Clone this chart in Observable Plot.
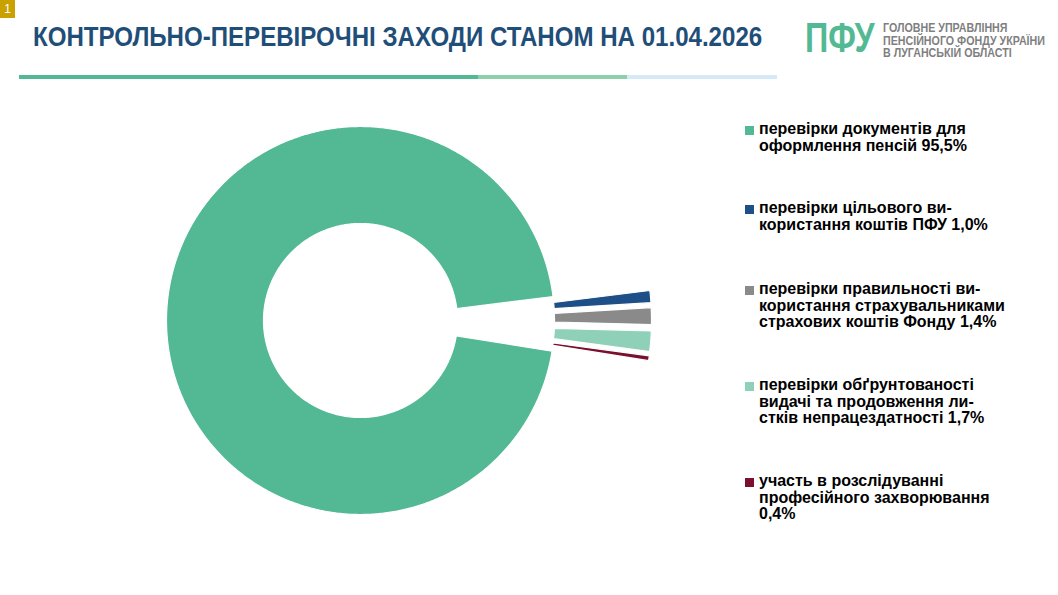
<!DOCTYPE html>
<html>
<head>
<meta charset="utf-8">
<script src="https://cdn.jsdelivr.net/npm/d3@7"></script>
<script src="https://cdn.jsdelivr.net/npm/@observablehq/plot@0.6"></script>
<style>
  html, body { margin: 0; padding: 0; background: #fff; }
  #page { position: relative; width: 1058px; height: 595px; overflow: hidden; font-family: "Liberation Sans", Arial, sans-serif; }
  #badge { position: absolute; left: 0; top: 0; width: 15px; height: 18px; background: #c9a100; color: #fff; font-size: 12px; line-height: 18px; text-align: center; }
  #title { position: absolute; left: 33px; top: 23px; font-weight: bold; font-size: 28px; line-height: 1; color: #1f4e79; white-space: nowrap; transform: scaleX(0.86); transform-origin: 0 0; }
  .bar { position: absolute; top: 75px; height: 4px; }
  #logo { position: absolute; left: 805px; top: 17px; font-weight: bold; font-size: 42px; line-height: 1; color: #52b994; transform: scaleX(0.77); transform-origin: 0 0; white-space: nowrap; }
  #org { position: absolute; left: 883px; top: 22px; font-weight: bold; font-size: 12px; line-height: 12.6px; color: #7f7f7f; white-space: nowrap; transform: scaleX(0.89); transform-origin: 0 0; }
  #chart { position: absolute; left: 0; top: 85px; }
  .item { position: absolute; left: 759px; font-weight: bold; font-size: 16px; line-height: 16.6px; color: #000; white-space: nowrap; }
  .sw { position: absolute; left: -14px; top: 5px; width: 9px; height: 9px; }
</style>
</head>
<body>
<div id="page">
  <div id="badge">1</div>
  <div id="title"></div>
  <div class="bar" style="left:19px;width:459px;background:#52b994"></div>
  <div class="bar" style="left:478px;width:149px;background:#8ecfab"></div>
  <div class="bar" style="left:627px;width:150px;background:#d5eaf6"></div>
  <div id="logo">ПФУ</div>
  <div id="org"></div>
  <div id="chart"></div>
  <div id="legend"></div>
</div>
<script>
const titleText = "КОНТРОЛЬНО-ПЕРЕВІРОЧНІ ЗАХОДИ СТАНОМ НА 01.04.2026";
const orgLines = ["ГОЛОВНЕ УПРАВЛІННЯ", "ПЕНСІЙНОГО ФОНДУ УКРАЇНИ", "В ЛУГАНСЬКІЙ ОБЛАСТІ"];
const categories = [
  "перевірки документів для оформлення пенсій",
  "перевірки цільового використання коштів ПФУ",
  "перевірки правильності використання страхувальниками страхових коштів Фонду",
  "перевірки обґрунтованості видачі та продовження листків непрацездатності",
  "участь в розслідуванні професійного захворювання"
];
const shares = [95.5, 1.0, 1.4, 1.7, 0.4];
const shareLabels = ["95,5%", "1,0%", "1,4%", "1,7%", "0,4%"];
const legendLines = [
  ["перевірки документів для", "оформлення пенсій 95,5%"],
  ["перевірки цільового ви-", "користання коштів ПФУ 1,0%"],
  ["перевірки правильності ви-", "користання страхувальниками", "страхових коштів Фонду 1,4%"],
  ["перевірки обґрунтованості", "видачі та продовження ли-", "стків непрацездатності 1,7%"],
  ["участь в розслідуванні", "професійного захворювання", "0,4%"]
];
const colors = ["#52b994", "#1e4f86", "#8a8a8a", "#8fd0b8", "#7a0f2e"];

document.getElementById("title").textContent = titleText;
document.getElementById("org").innerHTML = orgLines.join("<br>");

// --- donut geometry (unit radius), angles clockwise from 12 o'clock ---
const startDeg = 99.1;
const innerR = 0.5;
const explode = 0.5;   // offset of the small slices, in outer radii
const fan = 0.67;      // how much the explosion direction follows the slice bisector
const total = d3.sum(shares);
const points = [];
let acc = startDeg;
shares.forEach((v, i) => {
  const a0 = acc, a1 = acc + v / total * 360;
  acc = a1;
  const midDeg = (((a0 + a1) / 2) % 360 + 360) % 360;
  const dir = (90 + (midDeg - 90) * fan) * Math.PI / 180;
  const off = i === 0 ? 0 : explode;
  const ox = off * Math.sin(dir), oy = off * Math.cos(dir);
  const n = Math.max(6, Math.ceil((a1 - a0) / 0.5));
  for (let k = 0; k <= n; k++) {
    const a = (a0 + (a1 - a0) * k / n) * Math.PI / 180;
    points.push({slice: categories[i], x: ox + Math.sin(a), y: oy + Math.cos(a)});
  }
  for (let k = n; k >= 0; k--) {
    const a = (a0 + (a1 - a0) * k / n) * Math.PI / 180;
    points.push({slice: categories[i], x: ox + innerR * Math.sin(a), y: oy + innerR * Math.cos(a)});
  }
});

const W = 720, H = 470, Rpx = 194;
const chart = Plot.plot({
  width: W, height: H,
  margin: 0,
  x: {domain: [-W / 2 / Rpx, W / 2 / Rpx], axis: null},
  y: {domain: [-H / 2 / Rpx, H / 2 / Rpx], axis: null},
  color: {domain: categories, range: colors},
  marks: [
    Plot.line(points, {x: "x", y: "y", z: "slice", fill: "slice", stroke: "white", strokeWidth: 1.2, curve: "linear-closed"})
  ]
});
document.getElementById("chart").appendChild(chart);

// --- legend ---
const tops = [121, 200, 281, 377, 473];
const legend = document.getElementById("legend");
legendLines.forEach((lines, i) => {
  const div = document.createElement("div");
  div.className = "item";
  div.style.top = tops[i] + "px";
  div.innerHTML = `<span class="sw" style="background:${colors[i]}"></span>` + lines.join("<br>");
  legend.appendChild(div);
});
</script>
</body>
</html>
